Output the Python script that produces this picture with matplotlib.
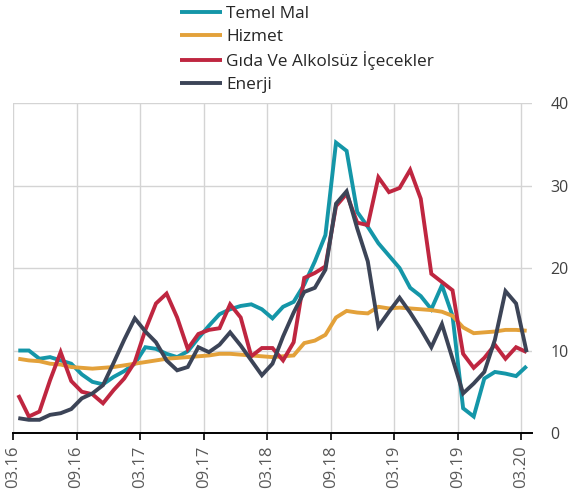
import matplotlib
matplotlib.use("Agg")
import matplotlib.pyplot as plt
import numpy as np

# Monthly annual inflation (%), 03.2016 - 03.2020
tick_labels = ["03.16", "09.16", "03.17", "09.17", "03.18", "09.18",
               "03.19", "09.19", "03.20"]

temel_mal = [10.0, 10.0, 9.0, 9.2, 8.8, 8.4, 7.1, 6.2, 5.9, 6.8,
             7.5, 8.4, 10.4, 10.2, 9.6, 9.2, 9.9, 11.5, 13.0, 14.4,
             15.0, 15.4, 15.6, 15.0, 13.9, 15.3, 15.9, 18.0, 20.8, 24.0,
             35.2, 34.2, 26.8, 25.0, 23.0, 21.5, 20.0, 17.6, 16.6, 15.0,
             17.9, 14.2, 3.0, 2.0, 6.6, 7.4, 7.2, 6.9, 8.1]

hizmet = [9.0, 8.8, 8.7, 8.4, 8.3, 8.0, 7.9, 7.8, 7.9, 8.0,
          8.2, 8.4, 8.6, 8.8, 9.0, 9.1, 9.2, 9.3, 9.4, 9.6,
          9.6, 9.5, 9.4, 9.3, 9.2, 9.3, 9.4, 10.9, 11.2, 11.9,
          14.0, 14.8, 14.6, 14.5, 15.3, 15.1, 15.2, 15.1, 15.0, 14.9,
          14.7, 14.2, 12.8, 12.1, 12.2, 12.3, 12.5, 12.5, 12.4]

gida = [4.6, 2.0, 2.6, 6.4, 9.8, 6.3, 5.0, 4.7, 3.6, 5.2,
        6.6, 8.6, 12.5, 15.7, 16.9, 14.0, 10.2, 12.0, 12.5, 12.7,
        15.6, 14.0, 9.3, 10.3, 10.3, 8.8, 11.0, 18.8, 19.4, 20.2,
        27.5, 29.0, 25.5, 25.2, 31.0, 29.2, 29.7, 31.9, 28.4, 19.3,
        18.3, 17.3, 9.6, 7.9, 9.1, 10.7, 9.0, 10.4, 9.8]

enerji = [1.8, 1.6, 1.6, 2.2, 2.4, 2.9, 4.2, 4.8, 5.8, 8.5,
          11.3, 13.9, 12.3, 11.0, 8.8, 7.6, 8.0, 10.4, 9.8, 10.7,
          12.2, 10.6, 8.8, 7.0, 8.4, 11.7, 14.6, 17.1, 17.6, 19.8,
          27.8, 29.3, 24.8, 20.8, 12.9, 14.7, 16.4, 14.6, 12.6, 10.4,
          13.2, 9.0, 4.8, 6.0, 7.4, 11.3, 17.2, 15.7, 9.8]

series = [
    ("Temel Mal", temel_mal, "#1496a8"),
    ("Hizmet", hizmet, "#e3a13a"),
    ("Gıda Ve Alkolsüz İçecekler", gida, "#bf2640"),
    ("Enerji", enerji, "#3c4457"),
]

plt.rcParams["font.family"] = ["Open Sans", "DejaVu Sans"]

fig = plt.figure(figsize=(5.72, 4.93), dpi=100)
ax = fig.add_axes([0.0227, 0.1217, 0.9073, 0.6693])

n = len(temel_mal)
x = np.arange(n) + 0.5  # each month centred in its slot

for name, vals, col in series:
    ax.plot(x, vals, color=col, lw=2.8, label=name, solid_joinstyle="miter",
            solid_capstyle="butt")

ax.set_xlim(0, n)
ax.set_ylim(0, 40)
ax.set_xticks(np.arange(0, n, 6))
ax.set_xticklabels(tick_labels, rotation=90, fontsize=12, color="#595959")
ax.set_yticks([0, 10, 20, 30, 40])
ax.yaxis.tick_right()
ax.tick_params(axis="y", length=0, pad=13.5, labelsize=11.5, labelcolor="#404040")
ax.tick_params(axis="x", length=5, width=1.2, color="#000000", pad=4)

ax.grid(True, color="#d4d4d4", lw=1.0)
ax.set_axisbelow(True)
for side in ["top", "left", "right"]:
    ax.spines[side].set_visible(False)
ax.spines["bottom"].set_color("#000000")
ax.spines["bottom"].set_linewidth(1.4)

fig.legend(loc="upper left", bbox_to_anchor=(180 / 572, 1 - 6 / 493),
           frameon=False, fontsize=12.4, handlelength=2.45, handletextpad=0.25,
           labelspacing=0.38, borderpad=0, borderaxespad=0,
           labelcolor="#262626")

fig.savefig("out.png", dpi=100)
